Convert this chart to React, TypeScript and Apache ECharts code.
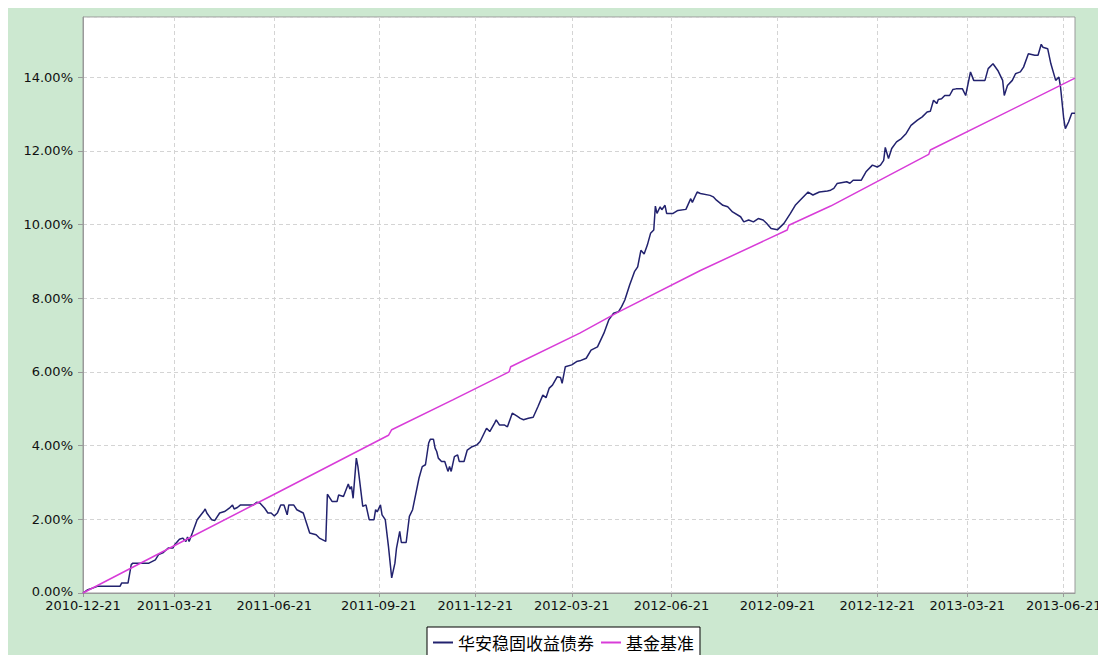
import React, { useEffect, useRef } from "react";
import * as echarts from "echarts";

// x axis: trading-day index; tick labels at these indices
const tickIdx = [0, 57, 119, 184, 244, 304, 366, 432, 494, 550, 610];
const tickLabels = [
  "2010-12-21", "2011-03-21", "2011-06-21", "2011-09-21", "2011-12-21",
  "2012-03-21", "2012-06-21", "2012-09-21", "2012-12-21", "2013-03-21", "2013-06-21",
];
const dayCount = 618;

const seriesNames = ["华安稳固收益债券", "基金基准"];

// 华安稳固收益债券 cumulative return (%), [trading-day index, value]
const fundData: [number, number][] = [
  [0, 0], [3, 0.09], [9, 0.18], [23, 0.18], [24, 0.27], [28, 0.27], [30, 0.77], [31, 0.81],
  [41, 0.81], [45, 0.9], [47, 1.04], [50, 1.1], [53, 1.22], [56, 1.22], [57, 1.31], [60, 1.46],
  [62, 1.49], [64, 1.4], [65, 1.52], [66, 1.4], [68, 1.63], [71, 1.99], [75, 2.21], [76, 2.28],
  [77, 2.17], [80, 1.99], [82, 1.97], [85, 2.17], [88, 2.21], [91, 2.3], [93, 2.39], [94, 2.28],
  [96, 2.32], [98, 2.39], [106, 2.39], [108, 2.46], [110, 2.44], [113, 2.3], [115, 2.17], [117, 2.17],
  [119, 2.09], [121, 2.18], [123, 2.39], [125, 2.39], [127, 2.12], [128, 2.39], [131, 2.39], [133, 2.26],
  [137, 2.17], [139, 1.9], [141, 1.63], [145, 1.58], [147, 1.49], [151, 1.4], [152, 2.68], [155, 2.48],
  [158, 2.48], [159, 2.66], [162, 2.62], [165, 2.96], [166, 2.82], [167, 2.89], [168, 2.57], [170, 3.66],
  [171, 3.43], [174, 2.35], [176, 2.39], [178, 1.99], [181, 1.99], [182, 2.26], [183, 2.2], [185, 2.39],
  [186, 2.12], [188, 1.99], [190, 1.26], [192, 0.41], [194, 0.81], [195, 1.22], [197, 1.67], [198, 1.37],
  [201, 1.37], [203, 2.08], [205, 2.26], [209, 3.12], [211, 3.43], [213, 3.48], [215, 4.07], [216, 4.17],
  [218, 4.17], [219, 3.93], [220, 3.84], [221, 3.66], [223, 3.57], [225, 3.57], [227, 3.3], [228, 3.43],
  [229, 3.3], [231, 3.7], [233, 3.75], [234, 3.57], [237, 3.57], [239, 3.88], [242, 3.97], [245, 4.02],
  [247, 4.11], [251, 4.47], [253, 4.38], [256, 4.61], [257, 4.7], [259, 4.56], [262, 4.56], [264, 4.51],
  [267, 4.88], [270, 4.8], [272, 4.74], [274, 4.7], [277, 4.74], [280, 4.77], [283, 5.06], [286, 5.37],
  [288, 5.3], [290, 5.56], [292, 5.64], [295, 5.87], [297, 5.85], [298, 5.69], [300, 6.14], [304, 6.19],
  [307, 6.28], [309, 6.3], [313, 6.37], [316, 6.59], [320, 6.68], [324, 7.05], [327, 7.41], [330, 7.59],
  [333, 7.63], [335, 7.77], [337, 7.95], [340, 8.36], [343, 8.72], [345, 8.85], [347, 9.3], [349, 9.2],
  [351, 9.44], [353, 9.76], [355, 9.85], [356, 10.5], [357, 10.3], [359, 10.48], [360, 10.4], [362, 10.52],
  [363, 10.3], [367, 10.3], [370, 10.38], [375, 10.41], [378, 10.7], [379, 10.6], [382, 10.88], [384, 10.84],
  [390, 10.79], [392, 10.75], [394, 10.66], [398, 10.52], [401, 10.48], [404, 10.34], [409, 10.21], [411, 10.07],
  [414, 10.12], [417, 10.07], [420, 10.16], [423, 10.12], [425, 10.04], [428, 9.89], [432, 9.86], [436, 10.03],
  [440, 10.3], [443, 10.52], [446, 10.66], [451, 10.88], [454, 10.8], [458, 10.88], [463, 10.91], [465, 10.93],
  [467, 10.98], [469, 11.11], [475, 11.16], [477, 11.12], [479, 11.2], [484, 11.2], [487, 11.43], [491, 11.61],
  [494, 11.56], [496, 11.61], [498, 11.74], [499, 12.09], [501, 11.79], [503, 12.06], [506, 12.24], [509, 12.33],
  [512, 12.47], [515, 12.69], [519, 12.83], [522, 12.92], [525, 13.05], [527, 13.07], [529, 13.37], [531, 13.28],
  [532, 13.39], [534, 13.41], [536, 13.5], [539, 13.5], [541, 13.66], [543, 13.68], [547, 13.68], [549, 13.5],
  [552, 14.14], [554, 13.91], [561, 13.91], [563, 14.23], [566, 14.36], [569, 14.18], [572, 13.91], [573, 13.5],
  [575, 13.77], [578, 13.91], [580, 14.09], [583, 14.14], [585, 14.27], [588, 14.63], [592, 14.59], [594, 14.59],
  [596, 14.89], [597, 14.81], [600, 14.77], [602, 14.36], [605, 13.91], [607, 14.0], [608, 13.73], [610, 12.87],
  [611, 12.6], [613, 12.78], [615, 13.02], [617, 13.02],
];

// 基金基准 cumulative return (%), [trading-day index, value]
const benchData: [number, number][] = [
  [0, 0], [57, 1.29], [119, 2.68], [190, 4.28], [192, 4.43], [230, 5.24], [265, 6.0], [266, 6.14],
  [309, 7.05], [332, 7.6], [384, 8.75], [438, 9.85], [439, 9.98], [465, 10.5], [526, 11.9], [527, 12.02],
  [617, 13.97],
];

const yMax = 15.63;
const yStep = 2;

export default function App() {
  const ref = useRef<HTMLDivElement>(null);

  useEffect(() => {
    document.documentElement.style.overflow = "hidden";
    document.body.style.overflow = "hidden";
    const chart = echarts.init(ref.current!, null, { renderer: "svg" });
    const categories = Array.from({ length: dayCount }, (_, i) => String(i));
    const isTick = (i: number) => tickIdx.indexOf(i) >= 0;
    const latin = "DejaVu Sans";
    const navy = "#22226E";
    const pink = "#D83CD8";
    chart.setOption({
      animation: false,
      backgroundColor: "#CCE8D0",
      grid: {
        left: 75,
        top: 9,
        right: 31,
        bottom: 62,
        show: true,
        backgroundColor: "#ffffff",
        borderColor: "#9a9a9a",
        borderWidth: 1,
      },
      xAxis: {
        type: "category",
        data: categories,
        boundaryGap: false,
        axisLine: { lineStyle: { color: "#9a9a9a", width: 1 } },
        axisTick: {
          show: true,
          interval: (i: number) => isTick(i),
          length: 4,
          lineStyle: { color: "#9a9a9a" },
        },
        axisLabel: {
          interval: (i: number) => isTick(i),
          formatter: (_v: string, i: number) => {
            const k = tickIdx.indexOf(i);
            return k >= 0 ? tickLabels[k] : "";
          },
          margin: 6,
          lineHeight: 12,
          color: "#111",
          fontFamily: latin,
          fontSize: 13,
        },
        splitLine: {
          show: true,
          interval: (i: number) => isTick(i),
          lineStyle: { color: "#d4d4d4", type: [4, 3], width: 1 },
        },
      },
      yAxis: {
        type: "value",
        min: 0,
        max: yMax,
        interval: yStep,
        axisLine: { show: true, lineStyle: { color: "#9a9a9a" } },
        axisTick: { show: true, length: 5, lineStyle: { color: "#9a9a9a" } },
        axisLabel: {
          showMaxLabel: false,
          formatter: (v: number) => {
            if (Math.abs(v % yStep) > 1e-6) return "";
            const s = v.toFixed(2) + "%";
            return v === 0 ? "{z|" + s + "}" : s;
          },
          rich: {
            z: { padding: [0, 0, 4, 0], fontFamily: latin, fontSize: 13, color: "#111", lineHeight: 9 },
          },
          margin: 10,
          lineHeight: 9,
          color: "#111",
          fontFamily: latin,
          fontSize: 13,
        },
        splitLine: {
          show: true,
          lineStyle: { color: "#d4d4d4", type: [4, 3], width: 1 },
        },
      },
      legend: {
        left: 419,
        top: 619,
        orient: "horizontal",
        icon: "rect",
        itemWidth: 20,
        itemHeight: 2,
        itemGap: 7,
        padding: [5, 6, 14, 6],
        backgroundColor: "#ffffff",
        borderColor: "#000000",
        borderWidth: 1,
        borderRadius: 0,
        textStyle: { fontFamily: "Noto Sans CJK SC", fontSize: 17, color: "#000", lineHeight: 21 },
        data: seriesNames,
      },
      series: [
        {
          name: seriesNames[0],
          type: "line",
          data: fundData,
          symbol: "none",
          lineStyle: { color: navy, width: 1.5 },
          itemStyle: { color: navy },
        },
        {
          name: seriesNames[1],
          type: "line",
          data: benchData,
          symbol: "none",
          lineStyle: { color: pink, width: 1.5 },
          itemStyle: { color: pink },
        },
      ],
    });
    return () => chart.dispose();
  }, []);

  return <div ref={ref} style={{ width: 1098, height: 647 }} />;
}
